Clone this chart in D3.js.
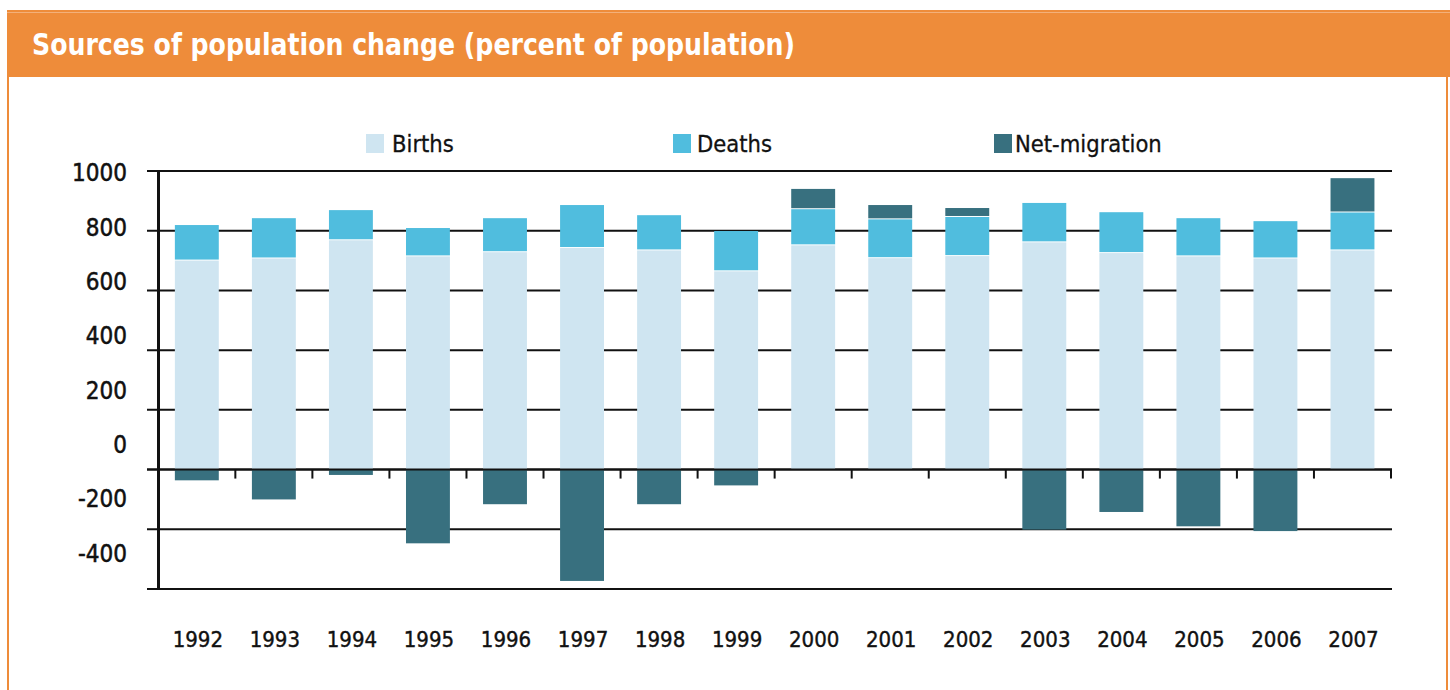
<!DOCTYPE html>
<html>
<head>
<meta charset="utf-8">
<script src="https://cdn.jsdelivr.net/npm/d3@7"></script>
<style>
  html, body { margin: 0; padding: 0; background: #fff; }
  svg { display: block; }
</style>
</head>
<body>
<svg id="chart" width="1450" height="690"></svg>
<script>
const title = "Sources of population change (percent of population)";
const years = ["1992","1993","1994","1995","1996","1997","1998","1999","2000","2001","2002","2003","2004","2005","2006","2007"];
const births = [700, 707, 768, 714, 728, 742, 734, 664, 751, 708, 715, 761, 725, 714, 707, 734];
const deaths = [119, 135, 101, 95, 114, 144, 118, 135, 121, 130, 131, 132, 137, 128, 125, 127];
const netMigration = [-36, -100, -18, -247, -116, -373, -116, -53, 68, 48, 30, -201, -142, -190, -206, 115];
const yTicks = [-400, -200, 0, 200, 400, 600, 800, 1000];
const seriesNames = ["Births", "Deaths", "Net-migration"];
const seriesColors = ["#cfe5f1", "#50bdde", "#38707f"];

const svg = d3.select("#chart");
const FONT = "'DejaVu Sans Condensed', 'DejaVu Sans', sans-serif";
const INK = "#111";

// frame & header
const ORANGE = "#ee8c3a";
svg.append("rect").attr("x", 7).attr("y", 10).attr("width", 1443).attr("height", 67).attr("fill", ORANGE);
svg.append("line").attr("x1", 8).attr("x2", 8).attr("y1", 10).attr("y2", 690).attr("stroke", ORANGE).attr("stroke-width", 2);
svg.append("line").attr("x1", 1447).attr("x2", 1447).attr("y1", 10).attr("y2", 690).attr("stroke", ORANGE).attr("stroke-width", 2);
svg.append("line").attr("x1", 7).attr("x2", 1450).attr("y1", 12.5).attr("y2", 12.5).attr("stroke", "#f3b07a").attr("stroke-width", 1);
svg.append("text").attr("x", 32).attr("y", 55)
  .attr("fill", "#fff").attr("font-family", FONT).attr("font-weight", "bold")
  .attr("font-size", 30).attr("textLength", 763).attr("lengthAdjust", "spacingAndGlyphs")
  .text(title);

// scales
const x = d3.scaleBand().domain(years).range([158.3, 1391]).paddingInner(0.43).paddingOuter(0.215);
const y = d3.scaleLinear().domain([-400, 1000]).range([589, 171]);
const yLabel = d3.scaleLinear().domain([-400, 1000]).range([553, 172.7]);

// gridlines (behind bars)
svg.append("g").selectAll("line").data(yTicks).join("line")
  .attr("x1", 147).attr("x2", 1392)
  .attr("y1", d => y(d)).attr("y2", d => y(d))
  .attr("stroke", INK).attr("stroke-width", 2);

// bars
const data = years.map((yr, i) => ({ yr, b: births[i], d: deaths[i], n: netMigration[i] }));
const bars = svg.append("g");
data.forEach(r => {
  const bx = x(r.yr), bw = x.bandwidth();
  bars.append("rect").attr("x", bx).attr("width", bw)
    .attr("y", y(r.b)).attr("height", y(0) - y(r.b)).attr("fill", seriesColors[0]);
  bars.append("rect").attr("x", bx).attr("width", bw)
    .attr("y", y(r.b + r.d)).attr("height", y(r.b) - y(r.b + r.d) - 1).attr("fill", seriesColors[1]);
  if (r.n >= 0) {
    bars.append("rect").attr("x", bx).attr("width", bw)
      .attr("y", y(r.b + r.d + r.n)).attr("height", y(r.b + r.d) - y(r.b + r.d + r.n) - 1).attr("fill", seriesColors[2]);
  } else {
    bars.append("rect").attr("x", bx).attr("width", bw)
      .attr("y", y(0)).attr("height", y(r.n) - y(0)).attr("fill", seriesColors[2]);
  }
});

// zero axis line and x ticks
svg.append("line").attr("x1", 147).attr("x2", 1392).attr("y1", y(0)).attr("y2", y(0))
  .attr("stroke", INK).attr("stroke-width", 2);
const step = x.step();
svg.append("g").selectAll("line").data(years).join("line")
  .attr("x1", (d, i) => 158.3 + (i + 1) * step).attr("x2", (d, i) => 158.3 + (i + 1) * step)
  .attr("y1", y(0)).attr("y2", y(0) + 9)
  .attr("stroke", INK).attr("stroke-width", 2);

// y axis vertical line
svg.append("line").attr("x1", 158.5).attr("x2", 158.5).attr("y1", y(1000) - 1).attr("y2", y(-400) + 1)
  .attr("stroke", INK).attr("stroke-width", 3);

// y labels
svg.append("g").selectAll("text").data(yTicks).join("text")
  .attr("x", 127).attr("y", d => yLabel(d))
  .attr("dy", "0.36em").attr("text-anchor", "end")
  .attr("font-family", FONT).attr("font-size", 24).attr("fill", INK)
  .attr("stroke", INK).attr("stroke-width", 0.5)
  .text(d => String(d));

// x labels
svg.append("g").selectAll("text").data(years).join("text")
  .attr("x", d => x(d) + x.bandwidth() / 2 + 1).attr("y", 647)
  .attr("text-anchor", "middle")
  .attr("font-family", FONT).attr("font-size", 22).attr("fill", INK)
  .attr("stroke", INK).attr("stroke-width", 0.4)
  .text(d => d);

// legend
const legendX = [366, 673, 994];
const legendTextX = [392, 697, 1015];
const lg = svg.append("g");
seriesNames.forEach((name, i) => {
  lg.append("rect").attr("x", legendX[i]).attr("y", 134).attr("width", 18).attr("height", 19).attr("fill", seriesColors[i]);
  lg.append("text").attr("x", legendTextX[i]).attr("y", 152)
    .attr("font-family", FONT).attr("font-size", 23.5).attr("fill", INK)
    .attr("stroke", INK).attr("stroke-width", 0.3)
    .text(name);
});
</script>
</body>
</html>
